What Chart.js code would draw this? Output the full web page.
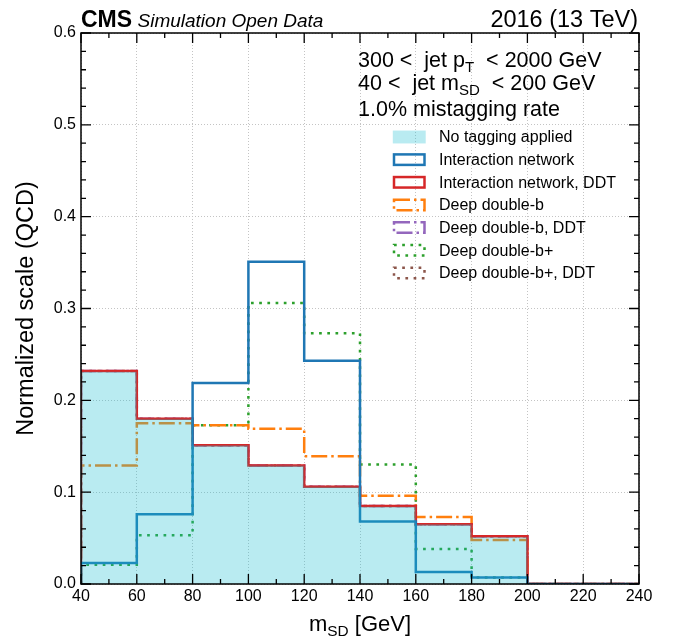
<!DOCTYPE html>
<html>
<head>
<meta charset="utf-8">
<script src="https://cdn.jsdelivr.net/npm/chart.js@4"></script>
<style>
  body { margin: 0; background: #fff; }
  canvas { display: block; }
</style>
</head>
<body>
<canvas id="msdChart" width="676" height="637"></canvas>
<script>
// bin edges of the soft-drop mass histogram (GeV)
const binEdges = [40, 60, 80, 100, 120, 140, 160, 180, 200, 220, 240];

// normalized QCD yield per bin
const noTagging          = [0.231, 0.180, 0.151, 0.129, 0.106, 0.084, 0.065, 0.051, 0, 0];
const interactionNet     = [0.023, 0.076, 0.219, 0.351, 0.243, 0.068, 0.013, 0.007, 0, 0];
const interactionNetDDT  = [0.232, 0.180, 0.151, 0.129, 0.106, 0.085, 0.065, 0.052, 0, 0];
const deepDoubleB        = [0.129, 0.175, 0.173, 0.169, 0.139, 0.096, 0.073, 0.048, 0, 0];
const deepDoubleBDDT     = [0.232, 0.180, 0.151, 0.129, 0.106, 0.085, 0.065, 0.052, 0, 0];
const deepDoubleBPlus    = [0.021, 0.053, 0.173, 0.306, 0.273, 0.130, 0.038, 0.007, 0, 0];
const deepDoubleBPlusDDT = [0.232, 0.180, 0.151, 0.129, 0.106, 0.085, 0.065, 0.052, 0, 0];

const seriesLabels = [
  "No tagging applied",
  "Interaction network",
  "Interaction network, DDT",
  "Deep double-b",
  "Deep double-b, DDT",
  "Deep double-b+",
  "Deep double-b+, DDT",
];

const yTicks = [0, 0.1, 0.2, 0.3, 0.4, 0.5, 0.6];
const xTicks = [40, 60, 80, 100, 120, 140, 160, 180, 200, 220, 240];

const FONT = "'Liberation Sans', Arial, Helvetica, sans-serif";
const DASHDOT = [16, 4, 2.5, 4];
const DOTTED = [2.7, 5.5];

// turn bin values into step outline points
function histPoints(vals) {
  const pts = [{ x: binEdges[0], y: 0 }];
  vals.forEach((v, i) => pts.push({ x: binEdges[i], y: v }));
  pts.push({ x: binEdges[binEdges.length - 1], y: 0 });
  return pts;
}

function stepLine(label, vals, color, dash) {
  return {
    label,
    data: histPoints(vals),
    borderColor: color,
    backgroundColor: "rgba(0,0,0,0)",
    borderWidth: 2.5,
    borderDash: dash,
    borderCapStyle: "butt",
    borderJoinStyle: "miter",
    fill: false,
    stepped: true,
    pointRadius: 0,
  };
}

const datasets = [
  {
    label: seriesLabels[0],
    data: histPoints(noTagging),
    borderWidth: 0,
    borderColor: "rgba(0,0,0,0)",
    backgroundColor: "rgba(23,190,207,0.3)",
    fill: "origin",
    stepped: true,
    pointRadius: 0,
  },
  stepLine(seriesLabels[1], interactionNet, "#1f77b4", []),
  stepLine(seriesLabels[2], interactionNetDDT, "#d62728", []),
  stepLine(seriesLabels[3], deepDoubleB, "#ff7f0e", DASHDOT),
  stepLine(seriesLabels[4], deepDoubleBDDT, "#9467bd", DASHDOT),
  stepLine(seriesLabels[5], deepDoubleBPlus, "#2ca02c", DOTTED),
  stepLine(seriesLabels[6], deepDoubleBPlusDDT, "#8c564b", DOTTED),
];

// draw text pieces, some of them as subscripts
function drawRich(ctx, x, y, parts, size) {
  let cx = x;
  parts.forEach(([txt, sub]) => {
    const s = sub ? size * 0.7 : size;
    ctx.font = `${s}px ${FONT}`;
    ctx.fillText(txt, cx, sub ? y + size * 0.22 : y);
    cx += ctx.measureText(txt).width;
  });
  return cx;
}

// frame with inward ticks on all four sides
const framePlugin = {
  id: "frame",
  afterDraw(chart) {
    const { ctx, chartArea: a, scales } = chart;
    const xs = scales.x, ys = scales.y;
    ctx.save();
    ctx.strokeStyle = "#000";
    ctx.lineWidth = 1.5;
    ctx.setLineDash([]);
    ctx.strokeRect(a.left, a.top, a.right - a.left, a.bottom - a.top);
    ctx.lineWidth = 1.3;
    ctx.beginPath();
    for (let v = 40; v <= 240; v += 10) {
      const px = xs.getPixelForValue(v);
      const len = v % 20 === 0 ? 10 : 5;
      ctx.moveTo(px, a.bottom); ctx.lineTo(px, a.bottom - len);
      ctx.moveTo(px, a.top); ctx.lineTo(px, a.top + len);
    }
    for (let i = 0; i <= 30; i++) {
      const py = ys.getPixelForValue(i * 0.02);
      const len = i % 5 === 0 ? 10 : 5;
      ctx.moveTo(a.left, py); ctx.lineTo(a.left + len, py);
      ctx.moveTo(a.right, py); ctx.lineTo(a.right - len, py);
    }
    ctx.stroke();
    ctx.restore();
  },
};

// titles, cut description and legend
const textPlugin = {
  id: "texts",
  afterDraw(chart) {
    const { ctx, chartArea: a } = chart;
    ctx.save();
    ctx.fillStyle = "#000";
    ctx.textBaseline = "alphabetic";

    // header
    ctx.textAlign = "left";
    ctx.font = `bold 23px ${FONT}`;
    ctx.fillText("CMS", 81, 27);
    const w = ctx.measureText("CMS ").width;
    ctx.font = `italic 19px ${FONT}`;
    ctx.fillText("Simulation Open Data", 81 + w - 1, 27);
    ctx.textAlign = "right";
    ctx.font = `23.5px ${FONT}`;
    ctx.fillText("2016 (13 TeV)", a.right - 1, 27);

    // axis titles
    ctx.textAlign = "left";
    const xw = (() => {
      ctx.font = `22px ${FONT}`;
      const m = ctx.measureText("m").width;
      ctx.font = `${22 * 0.7}px ${FONT}`;
      const sd = ctx.measureText("SD").width;
      ctx.font = `22px ${FONT}`;
      return m + sd + ctx.measureText(" [GeV]").width;
    })();
    drawRich(ctx, (a.left + a.right) / 2 - xw / 2, 631, [["m"], ["SD", true], [" [GeV]"]], 22);

    ctx.save();
    ctx.translate(33, (a.top + a.bottom) / 2);
    ctx.rotate(-Math.PI / 2);
    ctx.textAlign = "center";
    ctx.font = `23.5px ${FONT}`;
    ctx.fillText("Normalized scale (QCD)", 0, 0);
    ctx.restore();

    // cut text
    ctx.textAlign = "left";
    drawRich(ctx, 358, 67, [["300 <  jet p"], ["T", true], ["  < 2000 GeV"]], 21.5);
    drawRich(ctx, 358, 90, [["40 <  jet m"], ["SD", true], ["  < 200 GeV"]], 21.5);
    ctx.font = `21.5px ${FONT}`;
    ctx.fillText("1.0% mistagging rate", 358, 116);

    // legend
    const boxX = 394, boxW = 30.5, boxH = 10.5;
    chart.data.datasets.forEach((ds, i) => {
      const cy = 137 + i * 22.65;
      if (ds.fill) {
        ctx.fillStyle = ds.backgroundColor;
        ctx.fillRect(boxX - 1.2, cy - boxH / 2 - 1.2, boxW + 2.4, boxH + 2.4);
      } else {
        ctx.strokeStyle = ds.borderColor;
        ctx.lineWidth = 2.5;
        ctx.lineCap = "butt";
        ctx.lineJoin = "miter";
        ctx.setLineDash(ds.borderDash);
        ctx.strokeRect(boxX, cy - boxH / 2, boxW, boxH);
        ctx.setLineDash([]);
      }
      ctx.fillStyle = "#000";
      ctx.font = `16px ${FONT}`;
      ctx.textBaseline = "middle";
      ctx.fillText(ds.label, 439, cy + 1);
      ctx.textBaseline = "alphabetic";
    });
    ctx.restore();
  },
};

new Chart(document.getElementById("msdChart"), {
  type: "line",
  data: { datasets },
  options: {
    responsive: false,
    animation: false,
    events: [],
    layout: { padding: { top: 33, right: 37, left: 0, bottom: 0 } },
    plugins: { legend: { display: false }, tooltip: { enabled: false } },
    scales: {
      x: {
        type: "linear",
        min: 40,
        max: 240,
        afterFit: (s) => { s.height = 53; },
        afterBuildTicks: (s) => { s.ticks = xTicks.map(v => ({ value: v })); },
        ticks: {
          padding: 3,
          color: "#000",
          font: { family: FONT, size: 16 },
          maxRotation: 0,
          autoSkip: false,
        },
        grid: { color: "#c4c4c4", lineWidth: 1, drawTicks: false },
        border: { display: false, dash: [1, 2] },
      },
      y: {
        min: 0,
        max: 0.6,
        afterFit: (s) => { s.width = 81; },
        afterBuildTicks: (s) => { s.ticks = yTicks.map(v => ({ value: v })); },
        ticks: {
          padding: 5,
          color: "#000",
          font: { family: FONT, size: 16 },
          callback: (v) => Number(v).toFixed(1),
        },
        grid: { color: "#c4c4c4", lineWidth: 1, drawTicks: false },
        border: { display: false, dash: [1, 2] },
      },
    },
  },
  plugins: [framePlugin, textPlugin],
});
</script>
</body>
</html>
